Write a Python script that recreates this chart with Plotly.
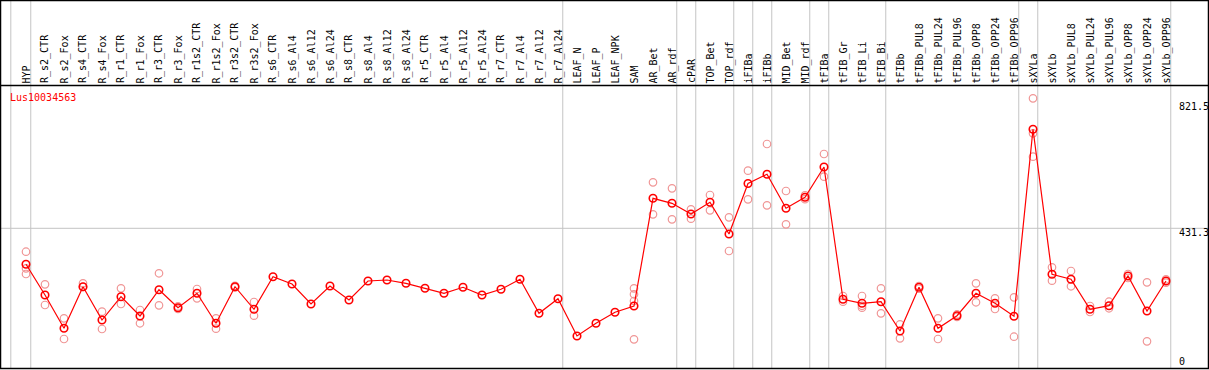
import plotly.graph_objects as go

gene_id = "Lus10034563"

categories = [
    "HYP", "R_s2_CTR", "R_s2_Fox", "R_s4_CTR", "R_s4_Fox", "R_r1_CTR", "R_r1_Fox",
    "R_r3_CTR", "R_r3_Fox", "R_r1s2_CTR", "R_r1s2_Fox", "R_r3s2_CTR", "R_r3s2_Fox",
    "R_s6_CTR", "R_s6_Al4", "R_s6_Al12", "R_s6_Al24", "R_s8_CTR", "R_s8_Al4",
    "R_s8_Al12", "R_s8_Al24", "R_r5_CTR", "R_r5_Al4", "R_r5_Al12", "R_r5_Al24",
    "R_r7_CTR", "R_r7_Al4", "R_r7_Al12", "R_r7_Al24", "LEAF_N", "LEAF_P", "LEAF_NPK",
    "SAM", "AR_Bet", "AR_rdf", "cPAR", "TOP_Bet", "TOP_rdf", "iFIBa", "iFIBb",
    "MID_Bet", "MID_rdf", "tFIBa", "tFIB_Gr", "tFIB_Li", "tFIB_Bi", "tFIBb",
    "tFIBb_PUL8", "tFIBb_PUL24", "tFIBb_PUL96", "tFIBb_OPP8", "tFIBb_OPP24",
    "tFIBb_OPP96", "sXYLa", "sXYLb", "sXYLb_PUL8", "sXYLb_PUL24", "sXYLb_PUL96",
    "sXYLb_OPP8", "sXYLb_OPP24", "sXYLb_OPP96",
]

mean_values = [
    319.5, 223.6, 119.9, 249.4, 145.7, 218.3, 158.2, 240.1, 184.0, 228.9, 135.5,
    249.4, 179.1, 280.6, 257.8, 195.6, 251.6, 208.0, 267.2, 270.3, 260.0, 244.4,
    228.9, 247.6, 223.6, 241.3, 272.5, 166.6, 212.1, 95.9, 135.5, 169.7, 189.3,
    524.7, 509.1, 475.8, 512.3, 413.5, 570.8, 599.8, 493.9, 527.8, 622.2, 210.2,
    197.7, 202.7, 111.5, 247.6, 119.9, 159.1, 228.9, 197.7, 157.3, 739.6, 288.0,
    272.5, 179.1, 190.3, 282.8, 173.8, 267.2,
]

replicate_values = [
    [358.4, 306.7, 289.0], [256.9, 192.4], [151.0, 86.6], [260.0, 248.5],
    [171.6, 117.7], [244.4, 195.6], [176.9, 135.5], [291.2, 191.5], [180.0, 188.0],
    [242.3, 213.3], [151.0, 118.6], [247.0, 252.0], [201.8, 159.1],
    [], [], [], [], [], [], [], [], [], [], [], [], [], [], [], [], [], [], [],
    [244.4, 225.8, 204.9, 85.6], [574.5, 474.9], [555.8, 459.3], [490.5, 461.2],
    [535.0, 487.3], [465.5, 360.6], [610.7, 521.6], [693.8, 502.9], [547.4, 443.7],
    [522.0, 534.0], [662.7, 592.0], [220.5, 202.7], [220.5, 190.0, 184.0],
    [244.4, 166.6], [132.3, 88.7], [251.6, 243.0], [151.0, 86.6], [155.0, 163.0],
    [260.0, 200.9], [213.3, 180.0], [216.4, 93.7], [836.1, 727.1, 654.2],
    [309.8, 268.1], [298.3, 250.7], [189.3, 170.6], [202.7, 182.2], [289.0, 276.6],
    [263.1, 79.4], [272.5, 262.0],
]

y_tick_values = [0, 431.3, 821.5]
y_tick_labels = ["0", "431.3", "821.5"]
gridline_y = [431.3]
group_boundaries = [-0.8, 0.25, 28.25, 34.25, 35.25, 37.25, 38.25, 39.25, 41.25,
                    42.25, 45.25, 52.25, 53.25, 60.25]

W, H = 1209, 370
plot_top, plot_bottom = 86, 368
plot_left, plot_right = 1, 1208
ph = plot_bottom - plot_top
pw = plot_right - plot_left


def py2paper(py):
    return (plot_bottom - py) / ph


def px2paper(px):
    return (px - plot_left) / pw


x_idx = list(range(len(categories)))
rep_x, rep_y = [], []
for i, reps in enumerate(replicate_values):
    for v in reps:
        rep_x.append(i)
        rep_y.append(v)

fig = go.Figure()
fig.add_trace(go.Scatter(
    x=rep_x, y=rep_y, mode="markers",
    marker=dict(symbol="circle-open", size=7.5, color="rgb(240,150,150)",
                line=dict(width=1.2, color="rgb(240,150,150)")),
    hoverinfo="skip", showlegend=False,
))
fig.add_trace(go.Scatter(
    x=x_idx, y=mean_values, mode="lines+markers",
    line=dict(color="#ff0000", width=1.2),
    marker=dict(symbol="circle-open", size=7.5, color="#ff0000",
                line=dict(width=1.6, color="#ff0000")),
    showlegend=False,
))

shapes = []
top_paper = py2paper(0)
for b in group_boundaries:
    shapes.append(dict(type="line", xref="x", yref="paper", x0=b, x1=b,
                       y0=0, y1=top_paper, line=dict(color="#c4c4c4", width=1),
                       layer="below"))
for gy in gridline_y:
    shapes.append(dict(type="line", xref="paper", yref="y", x0=0, x1=1,
                       y0=gy, y1=gy, line=dict(color="#c4c4c4", width=1),
                       layer="below"))
# header separator
shapes.append(dict(type="line", xref="paper", yref="paper", x0=px2paper(0), x1=px2paper(1209),
                   y0=py2paper(85.5), y1=py2paper(85.5), line=dict(color="black", width=1.5)))
# outer border
shapes.append(dict(type="rect", xref="paper", yref="paper",
                   x0=px2paper(0.5), x1=px2paper(1208.5), y0=py2paper(368.5), y1=py2paper(0.5),
                   line=dict(color="black", width=1.5)))

annotations = []
for i, c in enumerate(categories):
    annotations.append(dict(
        x=i, xref="x", y=py2paper(84.5), yref="paper", text=c, textangle=-90,
        showarrow=False, xanchor="center", yanchor="bottom",
        font=dict(family="DejaVu Sans Mono", size=10, color="black"),
        borderpad=0,
    ))
annotations.append(dict(
    x=px2paper(9), xref="paper", y=py2paper(98), yref="paper", text=gene_id,
    showarrow=False, xanchor="left", yanchor="middle",
    font=dict(family="DejaVu Sans Mono", size=10, color="#ff0000"), borderpad=0,
))
label_py = {"0": 361.7, "431.3": 232, "821.5": 106.7}
for v, lab in zip(y_tick_values, y_tick_labels):
    annotations.append(dict(
        x=px2paper(1177.5), xref="paper", y=py2paper(label_py[lab]), yref="paper",
        text=lab, showarrow=False, xanchor="left", yanchor="middle",
        font=dict(family="DejaVu Sans Mono", size=10, color="black"), borderpad=0,
    ))

y_lo = (366.8 - plot_bottom) * 3.114
y_hi = (366.8 - plot_top) * 3.114
x_lo = (plot_left - 26) / 19
x_hi = (plot_right - 26) / 19

fig.update_layout(
    width=W, height=H,
    margin=dict(l=plot_left, r=W - plot_right, t=plot_top, b=H - plot_bottom, pad=0),
    paper_bgcolor="white", plot_bgcolor="white",
    xaxis=dict(range=[x_lo, x_hi], showgrid=False, zeroline=False,
               showticklabels=False, ticks="", fixedrange=True),
    yaxis=dict(range=[y_lo, y_hi], showgrid=False, zeroline=False,
               showticklabels=False, ticks="", fixedrange=True),
    shapes=shapes, annotations=annotations,
    showlegend=False,
)

fig.write_html(
    "out.html",
    config={"displayModeBar": False},
    post_script="document.body.style.margin='0';document.body.style.padding='0';",
)
